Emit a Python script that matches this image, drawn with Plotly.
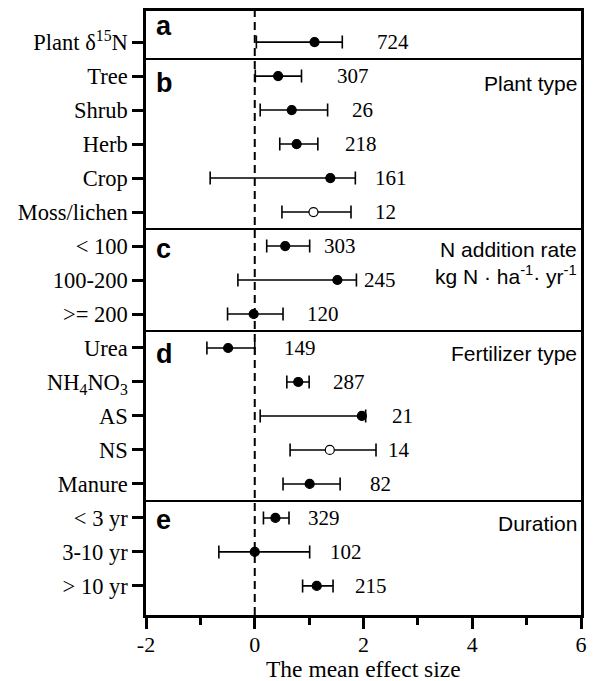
import plotly.graph_objects as go

# ---- data ----
categories = ["Plant δ<sup>15</sup>N",
              "Tree", "Shrub", "Herb", "Crop", "Moss/lichen",
              "< 100", "100-200", ">= 200",
              "Urea", "NH<sub>4</sub>NO<sub>3</sub>", "AS", "NS", "Manure",
              "< 3 yr", "3-10 yr", "> 10 yr"]
mean_effect = [1.10, 0.43, 0.68, 0.77, 1.39, 1.08, 0.56, 1.52, -0.02,
               -0.49, 0.80, 1.97, 1.38, 1.01, 0.38, 0.00, 1.14]
ci_lower = [0.03, 0.01, 0.10, 0.46, -0.82, 0.50, 0.22, -0.31, -0.50,
            -0.88, 0.59, 0.10, 0.65, 0.52, 0.16, -0.66, 0.88]
ci_upper = [1.61, 0.86, 1.34, 1.16, 1.85, 1.77, 1.01, 1.87, 0.52,
            0.00, 1.00, 2.04, 2.23, 1.57, 0.63, 1.01, 1.44]
n_obs = [724, 307, 26, 218, 161, 12, 303, 245, 120,
         149, 287, 21, 14, 82, 329, 102, 215]
n_label_x = [2.21, 1.47, 1.75, 1.62, 2.17, 2.17, 1.23, 1.97, 0.92,
             0.50, 1.41, 2.49, 2.42, 2.08, 0.95, 1.35, 1.81]
open_marker = [False, False, False, False, False, True, False, False, False,
               False, False, False, True, False, False, False, False]
panel_letters = ["a", "b", "c", "d", "e"]
panel_letter_rows = [-0.47, 1.21, 6.08, 9.18, 14.05]
panel_titles = ["Plant type",
                "N addition rate<br>kg N · ha<sup>-1</sup>· yr<sup>-1</sup>",
                "Fertilizer type", "Duration"]
panel_title_rows = [1.23, 6.49, 9.17, 14.16]
group_separators = [0.5, 5.5, 8.5, 13.5]
x_ticks = [-2, 0, 2, 4, 6]
x_tick_text = ["-2", "0", "2", "4", "6"]
x_title = "The mean effect size"

SERIF = "Liberation Serif"
SANS = "Liberation Sans"

rows = list(range(len(categories)))
err_plus = [u - m for u, m in zip(ci_upper, mean_effect)]
err_minus = [m - l for m, l in zip(mean_effect, ci_lower)]

fig = go.Figure()
fig.add_trace(go.Scatter(
    x=mean_effect, y=rows, mode="markers",
    marker=dict(size=9, symbol="circle",
                color=["white" if o else "black" for o in open_marker],
                line=dict(color="black", width=1.2)),
    error_x=dict(type="data", symmetric=False, array=err_plus,
                 arrayminus=err_minus, color="black", thickness=1.6, width=6.5),
    showlegend=False, hoverinfo="skip"))

annotations = []
for r, n, lx in zip(rows, n_obs, n_label_x):
    annotations.append(dict(x=lx, y=r, xref="x", yref="y", text=str(n),
                            showarrow=False, xanchor="left", yanchor="middle",
                            font=dict(family=SERIF, size=21, color="black")))
for lt, lr in zip(panel_letters, panel_letter_rows):
    annotations.append(dict(x=0.018, y=lr, xref="paper", yref="y",
                            text="<b>%s</b>" % lt, showarrow=False,
                            xanchor="left", yanchor="middle",
                            font=dict(family=SANS, size=27, color="black")))
for tt, tr in zip(panel_titles, panel_title_rows):
    annotations.append(dict(x=0.995, y=tr, xref="paper", yref="y", text=tt,
                            showarrow=False, xanchor="right", yanchor="middle",
                            align="right",
                            font=dict(family=SANS, size=21, color="black")))
annotations.append(dict(x=0.5, y=-0.089, xref="paper", yref="paper", text=x_title,
                        showarrow=False, xanchor="center", yanchor="middle",
                        font=dict(family=SERIF, size=23.5, color="black")))

shapes = []
for s in group_separators:
    shapes.append(dict(type="line", xref="paper", yref="y", x0=0, x1=1,
                       y0=s, y1=s, line=dict(color="black", width=2)))
shapes.append(dict(type="line", xref="x", yref="paper", x0=0, x1=0, y0=0, y1=1,
                   layer="below",
                   line=dict(color="black", width=2, dash="8px,5px")))

fig.update_layout(
    width=594, height=681,
    margin=dict(l=146, r=13, t=11, b=66, autoexpand=False),
    paper_bgcolor="white", plot_bgcolor="white",
    annotations=annotations, shapes=shapes,
    xaxis=dict(range=[-2, 6], tickvals=x_ticks, ticktext=x_tick_text,
               automargin=False,
               ticks="outside", ticklen=11, ticklabelstandoff=-3,
               tickwidth=2.5, tickcolor="black", showgrid=False, zeroline=False,
               showline=True, linecolor="black", linewidth=2.5, mirror=True,
               minor=dict(ticks="outside", ticklen=7, tickwidth=2.5,
                          tickcolor="black", dtick=1, tick0=-2, showgrid=False),
               tickfont=dict(family=SERIF, size=22, color="black")),
    yaxis=dict(range=[16.856, -0.915], tickvals=rows, ticktext=categories,
               automargin=False,
               ticks="outside", ticklen=11, tickwidth=2.5, tickcolor="black",
               showgrid=False, zeroline=False, showline=True, linecolor="black",
               linewidth=2.5, mirror=True,
               tickfont=dict(family=SERIF, size=22.5, color="black")),
)

fig.write_html("out.html")
